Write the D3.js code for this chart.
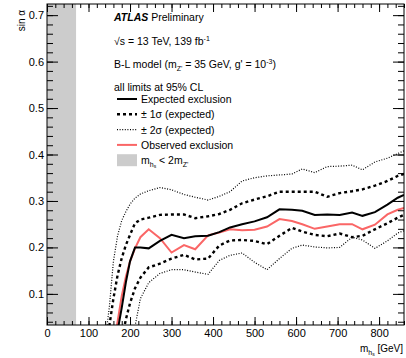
<!DOCTYPE html>
<html>
<head>
<meta charset="utf-8">
<script src="https://cdnjs.cloudflare.com/ajax/libs/d3/7.8.5/d3.min.js"></script>
<style>
    body { margin: 0; background: #fff; }
    svg text { font-family: "Liberation Sans", Arial, Helvetica, sans-serif; fill: #000; }
</style>
</head>
<body>
<svg id="chart" width="406" height="358"></svg>
<script>
// m_hs grid (GeV) and the limit curves
var masses   = [140, 150, 160, 170, 180, 190, 200, 212, 225, 245, 272, 300, 330, 357, 388, 415, 441, 470, 500, 530, 560, 590, 615, 645, 675, 705, 735, 760, 790, 820, 845, 860];
var expected = [-0.05, -0.03, -0.01, 0.02, 0.07, 0.125, 0.17, 0.200, 0.200, 0.198, 0.214, 0.227, 0.220, 0.224, 0.225, 0.233, 0.243, 0.250, 0.256, 0.265, 0.282, 0.281, 0.279, 0.270, 0.271, 0.270, 0.275, 0.268, 0.276, 0.292, 0.307, 0.313];
var observed = [-0.05, -0.03, -0.01, 0.04, 0.095, 0.137, 0.170, 0.198, 0.222, 0.239, 0.220, 0.189, 0.205, 0.196, 0.226, 0.232, 0.239, 0.237, 0.238, 0.245, 0.261, 0.257, 0.250, 0.240, 0.245, 0.250, 0.250, 0.239, 0.249, 0.271, 0.281, 0.285];
var plus1    = [-0.02, 0.03, 0.09, 0.14, 0.177, 0.205, 0.227, 0.252, 0.260, 0.264, 0.270, 0.271, 0.271, 0.263, 0.267, 0.272, 0.281, 0.295, 0.303, 0.310, 0.320, 0.320, 0.320, 0.320, 0.309, 0.317, 0.321, 0.325, 0.333, 0.343, 0.354, 0.358];
var minus1   = [-0.10, -0.08, -0.06, -0.03, 0.0, 0.045, 0.08, 0.112, 0.135, 0.157, 0.165, 0.176, 0.184, 0.174, 0.176, 0.204, 0.215, 0.216, 0.214, 0.207, 0.225, 0.242, 0.234, 0.227, 0.224, 0.230, 0.222, 0.225, 0.239, 0.252, 0.264, 0.270];
var plus2    = [0.0, 0.07, 0.17, 0.225, 0.258, 0.277, 0.293, 0.306, 0.315, 0.322, 0.329, 0.324, 0.314, 0.308, 0.302, 0.310, 0.320, 0.343, 0.350, 0.354, 0.356, 0.358, 0.369, 0.361, 0.374, 0.375, 0.377, 0.367, 0.384, 0.392, 0.402, 0.408];
var minus2   = [-0.20, -0.18, -0.16, -0.14, -0.11, -0.08, -0.02, 0.03, 0.09, 0.124, 0.144, 0.152, 0.152, 0.147, 0.142, 0.172, 0.183, 0.188, 0.168, 0.152, 0.176, 0.198, 0.205, 0.201, 0.199, 0.200, 0.222, 0.216, 0.198, 0.214, 0.231, 0.236];

var mZprime = 35;                         // excluded region m_hs < 2 m_Z'
var xTicks = [0, 100, 200, 300, 400, 500, 600, 700, 800];
var yTicks = [0.1, 0.2, 0.3, 0.4, 0.5, 0.6, 0.7];

(function() {
    var svg = d3.select('#chart');
    var pl = 47, pr = 404, pt = 4, pb = 325;

    var x = d3.scaleLinear().domain([0, 860]).range([pl, pr]);
    var y = d3.scaleLinear().domain([0.033, 0.724]).range([pb, pt]);

    svg.append('defs').append('clipPath').attr('id', 'frame')
        .append('rect')
        .attr('x', pl).attr('y', pt)
        .attr('width', pr - pl).attr('height', pb - pt);

    // grey band
    svg.append('rect')
        .attr('x', x(0)).attr('y', pt)
        .attr('width', x(2 * mZprime) - x(0)).attr('height', pb - pt)
        .attr('fill', '#cccccc');

    var styles = [
        { data: plus2,    color: '#000', width: 1.2, dash: '1,1.6' },
        { data: minus2,   color: '#000', width: 1.2, dash: '1,1.6' },
        { data: plus1,    color: '#000', width: 2.4, dash: '3,3' },
        { data: minus1,   color: '#000', width: 2.4, dash: '3,3' },
        { data: observed, color: '#fa6666', width: 2, dash: null },
        { data: expected, color: '#000', width: 2, dash: null }
    ];

    var line = d3.line()
        .x(function(d) { return x(d[0]); })
        .y(function(d) { return y(d[1]); });

    var curves = svg.append('g').attr('clip-path', 'url(#frame)');
    styles.forEach(function(s) {
        curves.append('path')
            .datum(d3.zip(masses, s.data))
            .attr('d', line)
            .attr('fill', 'none')
            .attr('stroke', s.color)
            .attr('stroke-width', s.width)
            .attr('stroke-dasharray', s.dash);
    });

    // axes, ticks pointing inward
    function minor(axis, scale, vals, size) {
        return axis(scale).tickValues(vals).tickSizeInner(size).tickSizeOuter(0).tickFormat('');
    }
    var xMinor = d3.range(0, 861, 20);
    var yMinor = d3.range(0.04, 0.7241, 0.02);

    svg.append('g').attr('transform', 'translate(0,' + pb + ')')
        .call(minor(d3.axisBottom, x, xMinor, -4));
    svg.append('g').attr('transform', 'translate(0,' + pt + ')')
        .call(minor(d3.axisTop, x, xMinor, -4));
    svg.append('g').attr('transform', 'translate(' + pl + ',0)')
        .call(minor(d3.axisLeft, y, yMinor, -6));
    svg.append('g').attr('transform', 'translate(' + pr + ',0)')
        .call(minor(d3.axisRight, y, yMinor, -6));

    svg.append('g').attr('class', 'ax').attr('transform', 'translate(0,' + pb + ')')
        .call(d3.axisBottom(x).tickValues(xTicks).tickSizeInner(-8).tickSizeOuter(0).tickPadding(4).tickFormat(d3.format('d')));
    svg.append('g').attr('transform', 'translate(0,' + pt + ')')
        .call(d3.axisTop(x).tickValues(xTicks).tickSizeInner(-8).tickSizeOuter(0).tickFormat(''));
    svg.append('g').attr('class', 'ax').attr('transform', 'translate(' + pl + ',0)')
        .call(d3.axisLeft(y).tickValues(yTicks).tickSizeInner(-11).tickSizeOuter(0).tickPadding(3).tickFormat(d3.format('.1f')));
    svg.append('g').attr('transform', 'translate(' + pr + ',0)')
        .call(d3.axisRight(y).tickValues(yTicks).tickSizeInner(-11).tickSizeOuter(0).tickFormat(''));

    svg.selectAll('.domain').remove();
    svg.selectAll('.tick line').attr('stroke', '#000');
    svg.selectAll('.ax text').attr('font-size', 11).attr('font-family', '"Liberation Sans", Arial, sans-serif');

    svg.append('rect')
        .attr('x', pl).attr('y', pt)
        .attr('width', pr - pl).attr('height', pb - pt)
        .attr('fill', 'none').attr('stroke', '#000').attr('stroke-width', 1);

    // axis titles
    svg.append('text')
        .attr('transform', 'translate(25,10) rotate(-90)')
        .attr('text-anchor', 'end').attr('font-size', 10)
        .text('sin \u03b1');

    var xt = svg.append('text').attr('x', 403).attr('y', 352).attr('text-anchor', 'end').attr('font-size', 10);
    xt.append('tspan').text('m');
    xt.append('tspan').attr('font-size', 7).attr('dy', 2.5).text('h');
    xt.append('tspan').attr('font-size', 5).attr('dy', 1.5).text('s');
    xt.append('tspan').attr('dy', -4).text(' [GeV]');

    // labels
    var tx = 114;
    var t1 = svg.append('text').attr('x', tx).attr('y', 21).attr('font-size', 10.5);
    t1.append('tspan').attr('font-weight', 'bold').attr('font-style', 'italic').text('ATLAS');
    t1.append('tspan').text(' Preliminary');

    var t2 = svg.append('text').attr('x', tx).attr('y', 45).attr('font-size', 10.5);
    t2.append('tspan').text('\u221as = 13 TeV, 139 fb');
    t2.append('tspan').attr('font-size', 7).attr('dy', -4).text('-1');

    var t3 = svg.append('text').attr('x', tx).attr('y', 68).attr('font-size', 10.5);
    t3.append('tspan').text('B-L model (m');
    t3.append('tspan').attr('font-size', 7).attr('dy', 3).text("Z'");
    t3.append('tspan').attr('dy', -3).text(" = 35 GeV, g' = 10");
    t3.append('tspan').attr('font-size', 7).attr('dy', -4).text('-3');
    t3.append('tspan').attr('dy', 4).text(')');

    svg.append('text').attr('x', tx).attr('y', 91).attr('font-size', 10.5).text('all limits at 95% CL');

    // legend
    var legendLabels = ['Expected exclusion', '\u00b1 1\u03c3 (expected)', '\u00b1 2\u03c3 (expected)', 'Observed exclusion'];
    var legendStyles = [styles[5], styles[2], styles[0], styles[4]];
    var ly0 = 99, lgap = 15.3;

    legendLabels.forEach(function(lab, i) {
        var ly = ly0 + i * lgap;
        var s = legendStyles[i];
        svg.append('line')
            .attr('x1', 117).attr('x2', 137).attr('y1', ly).attr('y2', ly)
            .attr('stroke', s.color).attr('stroke-width', s.width)
            .attr('stroke-dasharray', s.dash);
        svg.append('text').attr('x', 141).attr('y', ly + 4).attr('font-size', 10.5).text(lab);
    });

    var gy = ly0 + 4 * lgap;
    svg.append('rect').attr('x', 117).attr('y', gy - 6).attr('width', 20).attr('height', 12).attr('fill', '#cccccc');
    var g5 = svg.append('text').attr('x', 141).attr('y', gy + 4).attr('font-size', 10.5);
    g5.append('tspan').text('m');
    g5.append('tspan').attr('font-size', 7).attr('dy', 2.5).text('h');
    g5.append('tspan').attr('font-size', 5).attr('dy', 1.5).text('s');
    g5.append('tspan').attr('dy', -4).text(' < 2m');
    g5.append('tspan').attr('font-size', 7).attr('dy', 3).text("Z'");
})();
</script>
</body>
</html>
